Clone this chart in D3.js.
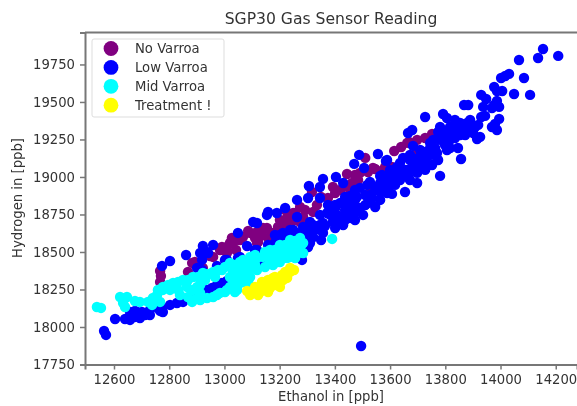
<!DOCTYPE html>
<html>
<head>
<meta charset="utf-8">
<script src="https://cdn.jsdelivr.net/npm/d3@7"></script>
<style>
	body { margin: 0; background: #fff; }
	svg { display: block; filter: blur(0.45px); }
	text { font-family: "DejaVu Sans", sans-serif; fill: #333; }
	.axis path, .axis line { stroke: #777; }
	.axis path { stroke-width: 2; }
	.axis line { stroke-width: 1.5; }
	.axis text { font-size: 13.2px; fill: #333; }
</style>
</head>
<body>
<div id="chart"></div>
<script>
// values: [ethanol, hydrogen] in ppb
const noVarroa = [
	[13752,19287],[13727,19260],[13698,19247],[13669,19233],[13662,19227],[13640,19200],[13615,19173],[13698,19167],
	[13607,19067],[13582,19067],[13546,19053],[13535,18927],[13510,19127],[13444,19020],[13393,18933],[13401,18893],
	[13317,18900],[13462,18960],[13484,18980],[13491,19027],[13538,19060],[13575,19047],[13455,18913],[13375,18860],
	[13335,18813],[13321,18767],[13285,18733],[13274,18800],[13249,18760],[13220,18780],[13220,18713],[13212,18680],
	[13256,18713],[13527,18933],[12767,18373],[12770,18340],[12767,18300],[12868,18367],[12883,18427],[12948,18473],
	[12984,18513],[13020,18560],[13009,18493],[13086,18640],[13140,18660],[13118,18560],[13165,18560],[13031,18560],
	[13009,18533],[12959,18467],[12893,18433],[12922,18393],[13093,18627],[13118,18633],[13154,18660],[13194,18667],
	[13227,18727],[13256,18760],[13122,18567],[13158,18593],[13056,18580],[13027,18593],[12991,18533],[13042,18513],
	[13067,18600],[13111,18593],[13136,18613],[13172,18627],[13201,18713],[13238,18680],[13274,18700],[13292,18780],
	[13350,18867],[13419,18913],[13437,18947],[13473,19013],[13520,19033]
];
const lowVarroa = [
	[14154,19853],[14209,19807],[14136,19793],[14067,19780],[14085,19660],[14031,19687],[14017,19673],[14002,19660],
	[14049,19553],[14107,19547],[13977,19600],[13987,19573],[14006,19573],[13930,19547],[13948,19520],[13987,19507],
	[13937,19467],[13969,19460],[13995,19467],[13977,19480],[13868,19480],[13883,19480],[13930,19400],[13944,19407],
	[13995,19387],[13969,19333],[13987,19313],[13980,19353],[13908,19333],[13890,19327],[13865,19347],[13872,19313],
	[13926,19267],[13901,19293],[13792,19420],[13806,19393],[13727,19400],[13680,19313],[13665,19293],[13915,19253],
	[13854,19360],[13879,19360],[13828,19293],[13806,19300],[13774,19300],[13756,19247],[13781,19247],[13817,19247],
	[13846,19193],[13857,19120],[13781,19007],[13556,19153],[13589,19113],[13683,19207],[13745,19193],[13770,19160],
	[13734,19133],[13709,19113],[13672,19113],[13647,19127],[13774,19113],[13752,19080],[13720,19060],[13698,19027],
	[13662,19047],[13625,19067],[13600,19027],[13571,19013],[13564,18960],[13600,18947],[13636,18980],[13672,18980],
	[13698,18960],[13654,18900],[13607,18887],[13575,18913],[13488,19147],[13470,19087],[13506,19060],[13585,19107],
	[13404,19000],[13430,18960],[13357,18987],[13346,18933],[13306,18940],[13263,18847],[13346,18860],[13303,18860],
	[13401,18793],[13437,18867],[13517,18947],[13480,18867],[13553,18933],[13589,18893],[13564,18847],[13520,18827],
	[13491,18793],[13473,18713],[13430,18680],[13401,18660],[13357,18693],[13321,18680],[13285,18667],[13249,18647],
	[13212,18627],[13212,18580],[13249,18593],[13285,18593],[13321,18600],[13357,18627],[13393,18700],[13444,18760],
	[13408,18747],[13372,18760],[13473,18800],[13502,18747],[13546,18800],[13303,18533],[13350,18580],[13281,18447],
	[13495,17873],[12564,17973],[12571,17947],[12604,18053],[12640,18053],[12658,18047],[12676,18107],[12683,18100],
	[12676,18067],[12701,18100],[12712,18080],[12730,18113],[12759,18127],[12777,18100],[12774,18127],[12803,18147],
	[12828,18160],[12850,18167],[12883,18207],[12937,18247],[12955,18260],[12973,18280],[12991,18293],[13009,18307],
	[12774,18407],[12803,18440],[12861,18480],[12912,18493],[12922,18540],[12959,18547],[12941,18493],[12919,18447],
	[12901,18393],[12919,18380],[12973,18407],[13002,18447],[13049,18460],[13082,18540],[13049,18627],[13118,18693],
	[13154,18747],[13190,18760],[13111,18513],[13104,18700],[13158,18767],[13220,18793],[13263,18733],[13238,18647],
	[13201,18613],[13158,18547],[13118,18513],[13056,18467],[13009,18447],[12937,18500],[13274,18627],[13249,18567],
	[13212,18547],[13176,18493],[13129,18407],[13154,18420],[13056,18333],
	// the solid part of the band
	[13310,18700],[13346,18747],[13383,18793],[13419,18827],[13455,18873],[13491,18927],[13527,18967],[13564,19007],
	[13600,19047],[13636,19093],[13672,19147],[13709,19180],[13745,19227],[13781,19273],[13817,19333],[13846,19327],
	[13328,18647],[13364,18673],[13401,18727],[13437,18780],[13473,18847],[13510,18880],[13546,18913],[13582,18967],
	[13618,19007],[13654,19047],[13691,19080],[13727,19113],[13763,19193],[13799,19213],[13835,19260],[13872,19280],
	[13267,18613],[13303,18633],[13437,18713],[13455,18807],[13618,18947],[13665,19007],[13727,19047],[13806,19180],
	[13890,19380],[13919,19347],[13835,19380],[13781,19333],[13527,18880],[13183,18613],[13285,18547],[13310,18560],
	[12658,18100],[12694,18060],[12730,18080],[12767,18107],
	[13419,18700],[13455,18727],[13437,18747],[13473,18767],[13510,18813],[13535,18860],[13564,18900],[13600,18987],
	[13636,19027],[13672,19047],[13702,19127],[13727,19167],[13752,19147],[13799,19260],[13854,19280],[13817,19193],
	[13383,18747],[13346,18680],[13310,18633],[13401,18813],[13437,18827],[13473,18913],[13375,18813],[13274,18580],
	[13230,18613],[13183,18560]
];
const midVarroa = [
	[12538,18133],[12553,18127],[12622,18200],[12647,18200],[12633,18160],[12640,18133],[12676,18173],[12694,18167],
	[12723,18167],[12741,18193],[12756,18213],[12759,18247],[12777,18247],[12767,18167],[12738,18147],[12777,18267],
	[12814,18293],[12850,18313],[12886,18333],[12922,18360],[12959,18367],[12991,18380],[13020,18427],[13056,18433],
	[13082,18433],[13093,18467],[13118,18460],[13140,18467],[13165,18480],[13190,18500],[13212,18513],[13238,18527],
	[13263,18533],[13285,18560],[13267,18493],[13238,18467],[13201,18433],[13176,18413],[13147,18400],[13118,18380],
	[13093,18333],[13067,18300],[13046,18247],[13009,18247],[12984,18227],[12959,18200],[12937,18193],[12912,18180],
	[12883,18167],[13020,18333],[13031,18367],[12886,18247],[12864,18267],[12832,18247],[12803,18247],[13093,18400],
	[13056,18380],[13056,18293],[13020,18267],[13067,18367],[13212,18467],[13278,18547],[13249,18540],[13285,18493],
	[13241,18480],[13390,18587],[12930,18313],[12966,18333],[12912,18280],
	[12796,18280],[12832,18300],[12868,18313],[12904,18333],[12941,18353],[12977,18380],[13002,18400],[13038,18413],
	[13067,18447],[13111,18480],[13147,18500],[13183,18513],[13220,18547],[13256,18573],[12901,18267],[12912,18227],
	[12973,18213],[13002,18233],[13031,18280],[13086,18367],[13172,18460],[13194,18467],[13256,18460],[13274,18513],
	[13038,18233],[12897,18187],[12868,18200],[12839,18213],[13086,18300],[13067,18347],[13111,18413],
	[13165,18513],[13201,18547],[13238,18580],[13274,18593],[13190,18433],[13227,18460],[13165,18433],[13046,18367],
	[13075,18393],[13046,18313]
];
const treatment = [
	[13252,18380],[13230,18360],[13209,18347],[13183,18333],[13158,18313],[13140,18280],[13118,18247],[13093,18233],
	[13129,18233],[13165,18260],[13194,18293],[13227,18327],[13147,18247],[13111,18267],[13147,18300],[13172,18313],
	[13201,18327],[13136,18260],[13238,18393],[13111,18233],[13183,18280],[13212,18313],[13082,18240],[13093,18213],
	[13122,18213],[13158,18233],[13201,18267],[13176,18327],[13220,18367],[13136,18300],[13238,18367]
];

const seriesNames = ["No Varroa", "Low Varroa", "Mid Varroa", "Treatment !"];
const seriesColors = ["purple", "blue", "cyan", "yellow"];
const seriesData = [noVarroa, lowVarroa, midVarroa, treatment];

const xTicks = [12600, 12800, 13000, 13200, 13400, 13600, 13800, 14000, 14200];
const yTicks = [17750, 18000, 18250, 18500, 18750, 19000, 19250, 19500, 19750];

let width = 577, height = 406;
let margin = { top: 32.5, right: 0, bottom: 41.5, left: 85 };

let svg = d3.select("#chart").append("svg")
	.attr("width", width)
	.attr("height", height);

// axis limits, the ticks land where they do in the picture
let x = d3.scaleLinear()
	.domain([12495, 14277])
	.range([margin.left, width - margin.right]);

let y = d3.scaleLinear()
	.domain([17750, 19963])
	.range([height - margin.bottom, margin.top]);

// points, one group per series so later ones cover earlier ones
seriesData.forEach((data, i) => {
	svg.append("g")
		.selectAll("circle")
		.data(data)
		.enter()
		.append("circle")
		.attr("cx", d => x(d[0]))
		.attr("cy", d => y(d[1]))
		.attr("r", 5.2)
		.attr("fill", seriesColors[i]);
});

svg.append("g")
	.attr("class", "axis")
	.attr("transform", "translate(0," + (height - margin.bottom) + ")")
	.call(d3.axisBottom(x).tickValues(xTicks).tickFormat(d3.format("d")).tickSize(5).tickPadding(5));

svg.append("g")
	.attr("class", "axis")
	.attr("transform", "translate(" + margin.left + ",0)")
	.call(d3.axisLeft(y).tickValues(yTicks).tickFormat(d3.format("d")).tickSize(5).tickPadding(5));

// top spine
svg.append("line")
	.attr("x1", margin.left).attr("x2", width)
	.attr("y1", margin.top).attr("y2", margin.top)
	.attr("stroke", "#777")
	.attr("stroke-width", 2);

svg.append("text")
	.attr("x", 331).attr("y", 24)
	.attr("text-anchor", "middle")
	.style("font-size", "15.6px")
	.text("SGP30 Gas Sensor Reading");

svg.append("text")
	.attr("x", 331).attr("y", 401)
	.attr("text-anchor", "middle")
	.style("font-size", "13.2px")
	.text("Ethanol in [ppb]");

svg.append("text")
	.attr("transform", "translate(22,198) rotate(-90)")
	.attr("text-anchor", "middle")
	.style("font-size", "13.2px")
	.text("Hydrogen  in [ppb]");

// legend
let legend = svg.append("g");

legend.append("rect")
	.attr("x", 92).attr("y", 39)
	.attr("width", 132).attr("height", 78)
	.attr("rx", 2)
	.attr("fill", "#fff")
	.attr("stroke", "#ddd")
	.attr("stroke-width", 1);

seriesNames.forEach((name, i) => {
	let rowY = 48.5 + i * 18.9;
	legend.append("circle")
		.attr("cx", 111).attr("cy", rowY)
		.attr("r", 7.4)
		.attr("fill", seriesColors[i]);
	legend.append("text")
		.attr("x", 135).attr("y", rowY + 4.5)
		.style("font-size", "13.2px")
		.text(name);
});
</script>
</body>
</html>
